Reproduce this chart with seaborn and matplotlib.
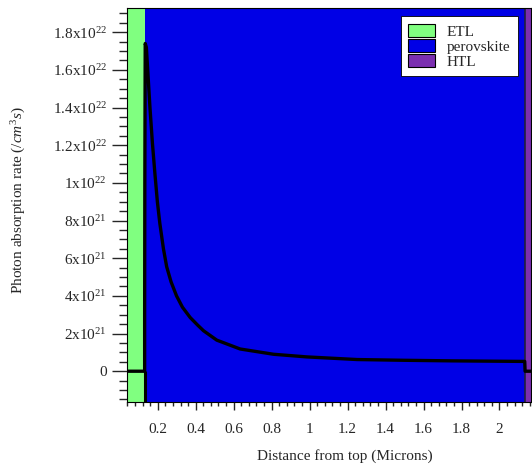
import numpy as np
import pandas as pd
import matplotlib
matplotlib.use("Agg")
import matplotlib.pyplot as plt
from matplotlib.patches import Patch
from matplotlib.ticker import FuncFormatter, MultipleLocator
import seaborn as sns

# layer stack (microns)
LAYERS = ["ETL", "perovskite", "HTL"]
LAYER_START = [0.038, 0.131, 2.135]
LAYER_END = [0.131, 2.135, 2.166]
LAYER_COLORS = ["#80FF80", "#0000E6", "#7B2FB0"]

# photon absorption rate profile
depth_um = [0.038, 0.131, 0.131, 0.132, 0.134, 0.140, 0.159, 0.172, 0.185, 0.198,
            0.211, 0.230, 0.247, 0.270, 0.299, 0.330, 0.371, 0.410, 0.441, 0.511,
            0.634, 0.810, 0.985, 1.250, 1.500, 1.750, 2.000, 2.133, 2.135, 2.166]
rate_e21 = [0.0, 0.0, 2.9, 10.0, 17.4, 17.2, 14.0, 12.1, 10.5, 9.0,
            7.85, 6.5, 5.55, 4.75, 4.0, 3.4, 2.85, 2.45, 2.15, 1.65,
            1.18, 0.9, 0.76, 0.62, 0.58, 0.55, 0.53, 0.52, 0.0, 0.0]

Y_MIN, Y_MAX = -1.66e21, 1.927e22

plt.rcParams["mathtext.fontset"] = "custom"
plt.rcParams["mathtext.rm"] = "Liberation Serif"
plt.rcParams["mathtext.it"] = "Liberation Serif:italic"


def sci_label(v, pos):
    if abs(v) < 1:
        return "0"
    exp = int(np.floor(np.log10(abs(v)) + 1e-9))
    mant = v / 10 ** exp
    return f"{mant:g}x10$^{{{exp}}}$"


def main():
    sns.set_style("ticks")
    plt.rcParams["font.family"] = ["Liberation Serif", "DejaVu Serif"]

    df = pd.DataFrame({"depth": depth_um, "rate": np.array(rate_e21) * 1e21})

    fig = plt.figure(figsize=(5.32, 4.68), dpi=100)
    ax = fig.add_axes([0.2387, 0.1400, 0.7594, 0.8423])

    for name, x0, x1, c in zip(LAYERS, LAYER_START, LAYER_END, LAYER_COLORS):
        ax.axvspan(x0, x1, facecolor=c, edgecolor="none", zorder=0)
    # dark boundary lines seen in the picture
    ax.vlines(LAYER_START[2], Y_MIN, Y_MAX, color="#202040", lw=1.2, zorder=1)
    ax.vlines(LAYER_START[1], Y_MIN, 0, color="black", lw=2.2, zorder=1)

    # estimator=None keeps the vertical steps (repeated x values)
    sns.lineplot(data=df, x="depth", y="rate", sort=False, estimator=None,
                 color="black", linewidth=2.4, ax=ax, zorder=3)

    ax.set_xlim(LAYER_START[0], LAYER_END[-1])
    ax.set_ylim(Y_MIN, Y_MAX)

    ax.set_xticks(np.arange(0.2, 2.01, 0.2))
    ax.xaxis.set_major_formatter(FuncFormatter(lambda v, p: f"{v:g}"))
    ax.xaxis.set_minor_locator(MultipleLocator(0.04))
    ax.set_yticks(np.arange(0, 1.81e22, 2e21))
    ax.yaxis.set_major_formatter(FuncFormatter(sci_label))
    ax.yaxis.set_minor_locator(MultipleLocator(5e20))

    ax.tick_params(axis="x", which="major", length=6, width=1, pad=9, labelsize=11, direction="out")
    ax.tick_params(axis="x", which="minor", length=3, width=1, direction="out")
    ax.tick_params(axis="y", which="major", length=11, width=1, pad=3.5, labelsize=11, direction="out")
    ax.tick_params(axis="y", which="minor", length=6, width=1, direction="out")
    for s in ax.spines.values():
        s.set_visible(True)
        s.set_linewidth(0.8)
        s.set_color("black")

    ax.set_xlabel("Distance from top (Microns)", fontsize=11)
    ax.xaxis.set_label_coords(0.54, -0.118)
    ax.set_ylabel("Photon absorption rate ($/cm^3s$)", fontsize=11)
    ax.yaxis.set_label_coords(-0.245, 0.513)

    handles = [Patch(facecolor=c, edgecolor="black", linewidth=0.8) for c in LAYER_COLORS]
    leg = ax.legend(handles, LAYERS, loc="upper right", bbox_to_anchor=(0.967, 0.9805),
                    borderaxespad=0, fontsize=11, frameon=True, fancybox=False,
                    framealpha=1, edgecolor="black", labelspacing=0.0,
                    handlelength=1.75, handleheight=1.0, handletextpad=0.75,
                    borderpad=0.5)
    leg.get_frame().set_linewidth(0.6)

    fig.savefig("out.png", dpi=100)
    plt.close(fig)


if __name__ == "__main__":
    main()
